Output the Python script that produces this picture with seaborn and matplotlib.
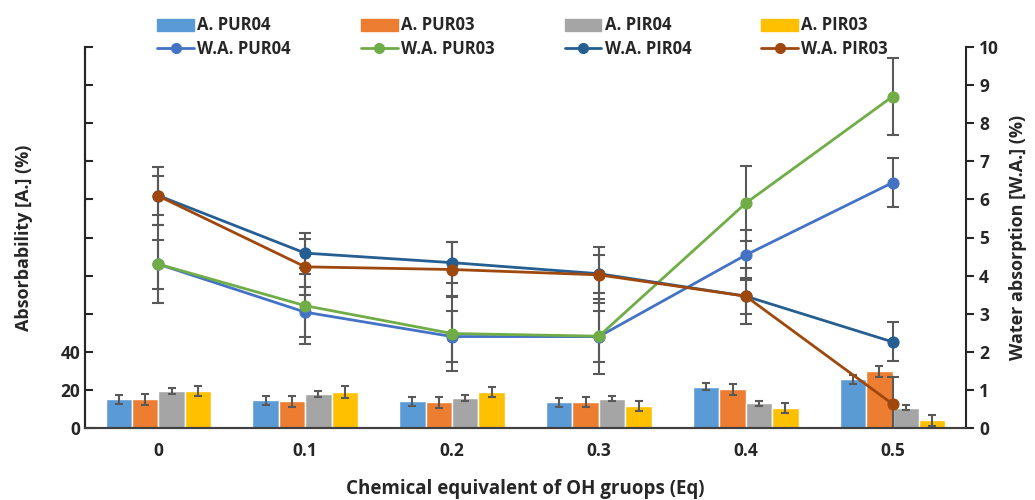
import numpy as np
import pandas as pd
import matplotlib
matplotlib.use("Agg")
import matplotlib.pyplot as plt
from matplotlib.patches import Patch
from matplotlib.lines import Line2D
import seaborn as sns

# === DATA ===
eq_labels = ["0", "0.1", "0.2", "0.3", "0.4", "0.5"]

bar_names = ["A. PUR04", "A. PUR03", "A. PIR04", "A. PIR03"]
a_pur04 = [15.1, 14.5, 14.0, 13.5, 21.7, 25.5]
a_pur03 = [15.0, 14.0, 13.5, 13.5, 20.3, 29.7]
a_pir04 = [19.4, 17.8, 15.7, 15.4, 13.0, 10.7]
a_pir03 = [19.4, 18.9, 18.9, 11.7, 10.7, 4.0]
a_pur04_err = [2.3, 2.4, 2.3, 2.5, 2.0, 2.2]
a_pur03_err = [2.9, 3.0, 2.9, 2.6, 2.8, 2.8]
a_pir04_err = [1.5, 1.7, 1.6, 1.4, 1.3, 1.4]
a_pir03_err = [2.8, 3.0, 2.7, 2.6, 2.6, 2.9]

line_names = ["W.A. PUR04", "W.A. PUR03", "W.A. PIR04", "W.A. PIR03"]
wa_pur04 = [4.30, 3.04, 2.40, 2.40, 4.54, 6.44]
wa_pur03 = [4.30, 3.21, 2.48, 2.41, 5.90, 8.70]
wa_pir04 = [6.10, 4.59, 4.34, 4.05, 3.46, 2.26]
wa_pir03 = [6.09, 4.23, 4.16, 4.02, 3.46, 0.63]
wa_pur04_err = [0.64, 0.65, 0.66, 0.66, 0.66, 0.64]
wa_pur03_err = [1.02, 1.00, 0.99, 0.98, 0.98, 1.00]
wa_pir04_err = [0.52, 0.54, 0.54, 0.50, 0.48, 0.51]
wa_pir03_err = [0.75, 0.73, 0.73, 0.73, 0.74, 0.72]

# === STYLE ===
bar_colors = ["#5B9BD5", "#ED7D31", "#A5A5A5", "#FFC000"]
line_colors = ["#4472C4", "#70AD47", "#255E91", "#9E480E"]
err_color = "#595959"

sns.set_style("ticks")
plt.rcParams["font.family"] = ["Open Sans", "DejaVu Sans"]
plt.rcParams["font.weight"] = "bold"

bar_vals = [a_pur04, a_pur03, a_pir04, a_pir03]
bar_errs = [a_pur04_err, a_pur03_err, a_pir04_err, a_pir03_err]
line_vals = [wa_pur04, wa_pur03, wa_pir04, wa_pir03]
line_errs = [wa_pur04_err, wa_pur03_err, wa_pir04_err, wa_pir03_err]

df = pd.DataFrame({
    "eq": eq_labels * len(bar_names),
    "val": sum(bar_vals, []),
    "series": [n for n in bar_names for _ in eq_labels],
})

fig = plt.figure(figsize=(10.35, 5), dpi=100)
ax = fig.add_axes([0.0821, 0.144, 0.8512, 0.762])

sns.barplot(data=df, x="eq", y="val", hue="series", hue_order=bar_names,
            palette=bar_colors, width=0.72, saturation=1, errorbar=None,
            legend=False, ax=ax)

# error bars on bars
for cont, errs in zip(ax.containers, bar_errs):
    xs = [p.get_x() + p.get_width() / 2 for p in cont.patches]
    ys = [p.get_height() for p in cont.patches]
    ax.errorbar(xs, ys, yerr=errs, fmt="none", ecolor=err_color,
                elinewidth=1.5, capsize=3, capthick=1.5, zorder=3)

ax.set_xlim(-0.5, 5.5)
ax.set_ylim(0, 200)
ax.set_yticks(range(0, 201, 20))
ax.set_yticklabels(["0", "20", "40"] + [""] * 8)
ax.set_xlabel("Chemical equivalent of OH gruops (Eq)", fontsize=13.5,
              fontweight="bold", labelpad=14)
ax.set_ylabel("Absorbability [A.] (%)", fontsize=13, fontweight="bold", labelpad=20)
ax.tick_params(axis="x", length=0, labelsize=12.5, pad=10)
ax.tick_params(axis="y", direction="in", length=6, width=1.5, labelsize=12.5)
for lab in ax.get_xticklabels() + ax.get_yticklabels():
    lab.set_fontweight("bold")

# water absorption lines
ax2 = ax.twinx()
xpos = np.arange(len(eq_labels))
for vals, errs, col in zip(line_vals, line_errs, line_colors):
    ax2.errorbar(xpos, vals, yerr=errs, fmt="none", ecolor=err_color,
                 elinewidth=1.5, capsize=4, capthick=1.5, zorder=2)
    sns.lineplot(x=xpos, y=vals, ax=ax2, color=col, marker="o", markersize=8,
                 markeredgecolor=col, linewidth=2, zorder=3)

ax2.set_xlim(-0.5, 5.5)
ax2.set_ylim(0, 10)
ax2.set_yticks(range(0, 11))
ax2.set_ylabel("Water absorption [W.A.] (%)", fontsize=13, fontweight="bold", labelpad=7)
ax2.tick_params(axis="y", direction="out", length=6, width=1.5, labelsize=12.5)
for lab in ax2.get_yticklabels():
    lab.set_fontweight("bold")

for a in (ax, ax2):
    a.spines["top"].set_visible(False)
    a.spines["left"].set_linewidth(1.5)
    a.spines["right"].set_linewidth(1.5)
    a.spines["bottom"].set_linewidth(1.5)
    a.spines["bottom"].set_color("#404040")
ax.spines["right"].set_visible(False)

# legend: bars on top row, lines on bottom row
handles, labels = [], []
for bn, bc, ln, lc in zip(bar_names, bar_colors, line_names, line_colors):
    handles.append(Patch(facecolor=bc, edgecolor=bc))
    labels.append(bn)
    handles.append(Line2D([0], [0], color=lc, marker="o", markersize=7, linewidth=2))
    labels.append(ln)
fig.legend(handles, labels, ncol=4, loc="center", bbox_to_anchor=(0.505, 0.926),
           frameon=False, prop={"size": 12, "weight": "bold"},
           handlelength=2.2, handletextpad=0.2, columnspacing=4.2, labelspacing=0.3)

fig.savefig("out.png", dpi=100)
